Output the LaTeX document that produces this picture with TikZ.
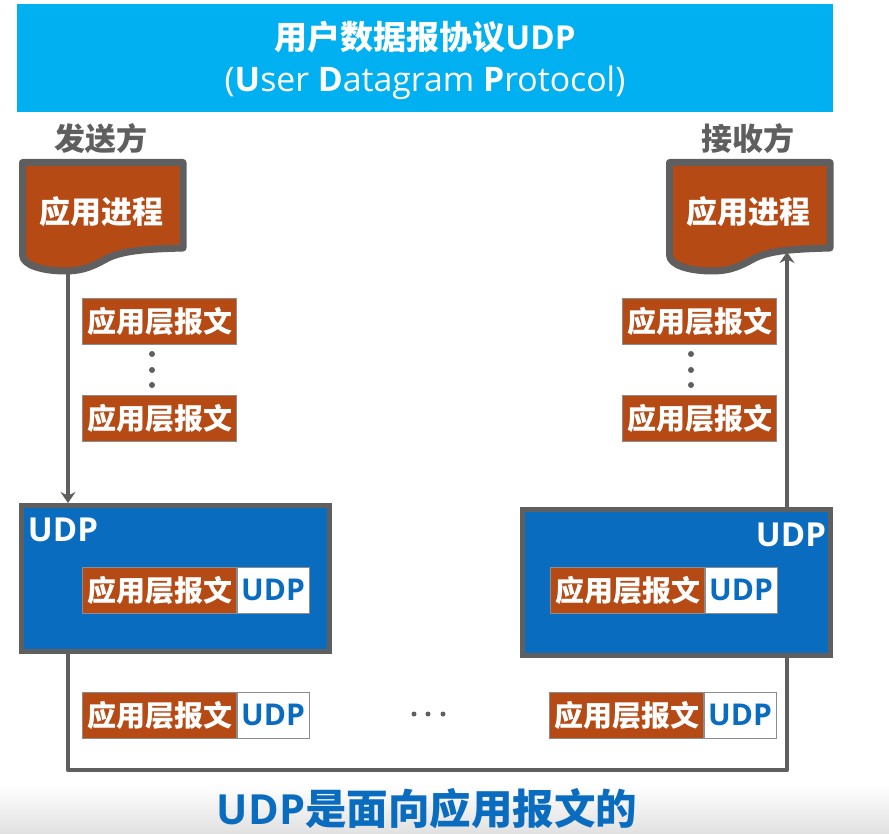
\documentclass[tikz,border=0pt]{standalone}
\usepackage{fontspec}
\setmainfont{Noto Sans CJK SC}
\newfontfamily\latinfont{Open Sans}
\usepackage{tikz}
\usetikzlibrary{arrows.meta, positioning, calc}
\definecolor{titlecyan}{HTML}{00B0F0}
\definecolor{udpblue}{HTML}{0A6CBF}
\definecolor{msgbrown}{HTML}{B64A14}
\definecolor{linegray}{HTML}{5F5F5F}
\newcommand{\docshape}[1]{%
  \draw[line width=7pt, linegray, fill=msgbrown, line join=round, xshift=#1pt]
    (22.5,162.5) -- (183,162.5) -- (183,248)
    .. controls (150,249) and (125,250) .. (108,258)
    .. controls (95,265) and (85,271) .. (65,271)
    .. controls (42,271) and (22.5,265) .. (22.5,255) -- cycle;}
\tikzset{
  msgbox/.style={fill=msgbrown, draw=black!45, line width=0.5pt, text=white, font=\bfseries\fontsize{29}{29}\selectfont,
    minimum width=154pt, minimum height=46pt, inner sep=0pt},
  tagbox/.style={fill=white, draw=black!45, line width=0.5pt, text=udpblue, font=\latinfont\bfseries\fontsize{30}{30}\selectfont,
    minimum width=72pt, minimum height=46pt, inner sep=0pt},
  udpbox/.style={fill=udpblue, draw=linegray, line width=5pt, minimum width=308pt, minimum height=146pt},
  link/.style={line width=4.5pt, linegray, line join=round},
  sidelabel/.style={text=linegray, font=\bfseries\fontsize{31}{31}\selectfont, inner sep=0pt},
  proclabel/.style={text=white, font=\bfseries\fontsize{31}{31}\selectfont, inner sep=0pt},
  udplabel/.style={text=white, font=\latinfont\bfseries\fontsize{33}{33}\selectfont, inner sep=0pt}
}
\begin{document}
\begin{tikzpicture}[x=1pt, y=-1pt, >={Stealth[length=11pt,width=15pt]}]
  \useasboundingbox (0,0) rectangle (889,834);
  \shade[top color=white, bottom color=black!12] (0,785) rectangle (889,834);
  % title bar
  \node[fill=titlecyan, minimum width=816pt, minimum height=108pt, inner sep=0pt] (titlebar) at (425,58) {};
  \node[text=white, font=\bfseries\fontsize{33}{33}\selectfont, inner sep=0pt] (titlecn) at (425,37) {用户数据报协议{\latinfont UDP}};
  \node[text=white, font=\latinfont\fontsize{33.8}{33.8}\selectfont, inner sep=0pt] (titleen) at (425,83)
    {(\textbf{U}ser \textbf{D}atagram \textbf{P}rotocol)};
  % sender and receiver
  \node[sidelabel] (sendlabel) at (101,139) {发送方};
  \node[sidelabel] (recvlabel) at (748,139) {接收方};
  \docshape{0}
  \docshape{647}
  \node[proclabel] (sendproc) at (101,212) {应用进程};
  \node[proclabel] (recvproc) at (748,212) {应用进程};
  \coordinate (sendtail) at (68,272);
  \coordinate (recvhead) at (787,252);
  % messages
  \foreach \name/\mx/\my in {sendone/159.5/321, sendtwo/159.5/418, recvone/699.5/321, recvtwo/699.5/418}{
    \node[msgbox] (\name) at (\mx,\my) {应用层报文};
  }
  \foreach \dx in {152,691}{
    \foreach \dy in {354,370,385}{
      \fill[linegray] (\dx,\dy) circle (3pt);
    }
  }
  % UDP entities
  \node[udpbox] (sendudp) at (175.5,578.5) {};
  \node[udpbox] (recvudp) at (676,582.5) {};
  \node[udplabel] (sendudplabel) at (63,530) {UDP};
  \node[udplabel] (recvudplabel) at (791,535) {UDP};
  \foreach \name/\mx/\my in {sendin/159.5/590, recvin/627.5/590, sendout/159.5/715, recvout/626.5/715}{
    \node[msgbox] (\name) at (\mx,\my) {应用层报文};
    \node[tagbox, right=0pt of \name] (\name tag) {UDP};
  }
  \foreach \dx in {414,428,443}{
    \fill[linegray] (\dx,714) circle (2.5pt);
  }
  % connectors
  \draw[link, ->] (sendtail) -- (sendudp.north -| sendtail);
  \draw[link, ->] (recvudp.north -| recvhead) -- (recvhead);
  \draw[link] (sendudp.south -| sendtail) -- (68,770) -- (787,770) -- (recvudp.south -| recvhead);
  % bottom line
  \node[text=udpblue, font=\bfseries\fontsize{41.5}{41.5}\selectfont, inner sep=0pt] (closing) at (427,809) {{\latinfont UDP}是面向应用报文的};
\end{tikzpicture}
\end{document}
